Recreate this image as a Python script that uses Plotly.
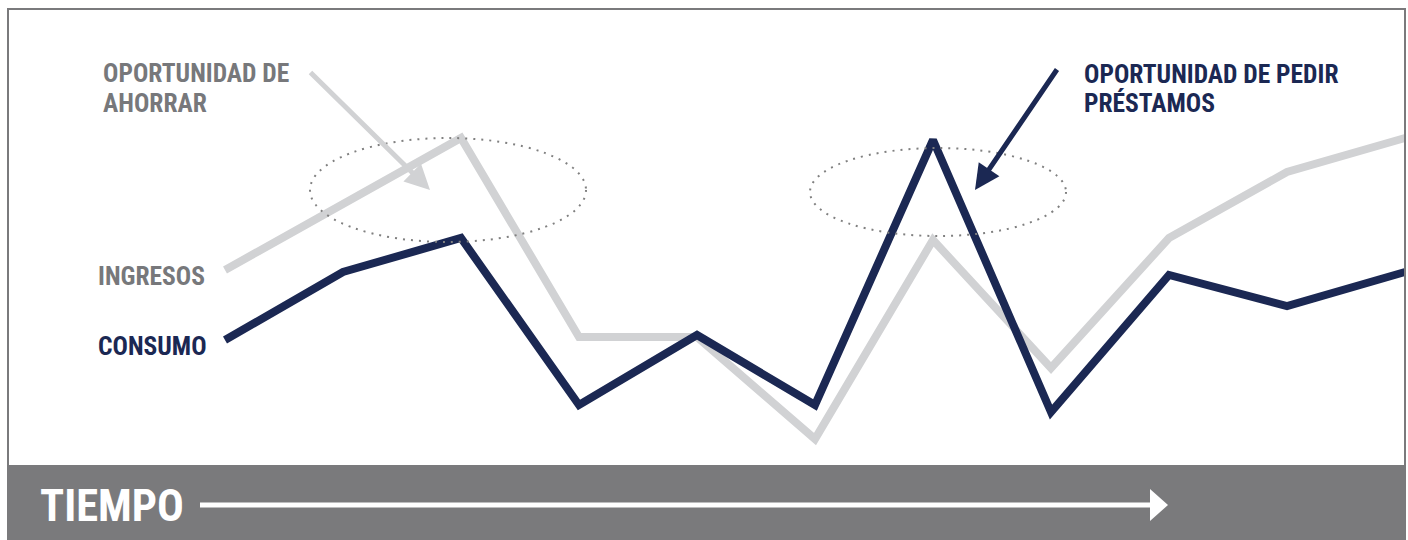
import plotly.graph_objects as go

# ---- data ----
periods = list(range(11))
ingresos = [270, 336, 402, 203, 203, 101, 300, 172, 302, 368, 402]
consumo = [200, 268, 302, 135, 205, 135, 400, 128, 265, 234, 268]

save_label = ["OPORTUNIDAD DE", "AHORRAR"]
borrow_label = ["OPORTUNIDAD DE PEDIR", "PRÉSTAMOS"]

W, H = 1408, 540
X0, DX = 225, 118  # pixel of first period, pixel spacing

GRAY_TXT = "#77787b"
LIGHT = "#d1d2d4"
NAVY = "#1b2853"
BAR = "#7a7a7c"
FONT = "Roboto Condensed, Liberation Sans Narrow, Arial Narrow, sans-serif"


def px(v):
    return v / W


def py(v):
    return 1 - v / H


def dx(p):
    return (p - X0) / DX


def dy(p):
    return H - p


fig = go.Figure()
fig.add_trace(go.Scatter(x=periods, y=ingresos, mode="lines",
                         line=dict(color=LIGHT, width=8), hoverinfo="skip"))
fig.add_trace(go.Scatter(x=periods, y=consumo, mode="lines",
                         line=dict(color=NAVY, width=8), hoverinfo="skip"))

shapes = [
    # bottom bar
    dict(type="rect", xref="paper", yref="paper", x0=px(7), x1=px(1406), y0=py(540), y1=py(466),
         fillcolor=BAR, line=dict(width=0), layer="above"),
    # frame
    dict(type="rect", xref="paper", yref="paper", x0=px(8), x1=px(1405), y0=py(466), y1=py(9),
         line=dict(color=BAR, width=2), layer="above"),
    # ellipses
    dict(type="circle", xref="x", yref="y", x0=dx(310), x1=dx(586), y0=dy(242), y1=dy(138),
         line=dict(color="#808080", width=2, dash="2px,6px"), layer="above"),
    dict(type="circle", xref="x", yref="y", x0=dx(810), x1=dx(1066), y0=dy(236), y1=dy(148),
         line=dict(color="#808080", width=2, dash="2px,6px"), layer="above"),
    # time arrow
    dict(type="line", xref="paper", yref="paper", x0=px(200), x1=px(1152), y0=py(505), y1=py(505),
         line=dict(color="white", width=5), layer="above"),
    dict(type="path", xref="paper", yref="paper",
         path=f"M {px(1150)} {py(489)} L {px(1168)} {py(505)} L {px(1150)} {py(521)} Z",
         fillcolor="white", line=dict(width=0), layer="above"),
]


def label(x, y, text, color, size=25.5):
    return dict(xref="paper", yref="paper", x=px(x), y=py(y), xanchor="left", yanchor="middle",
                text=f"<b>{text}</b>", showarrow=False,
                font=dict(family=FONT, size=size, color=color))


annotations = [
    label(101, 73, save_label[0], GRAY_TXT),
    label(101, 103, save_label[1], GRAY_TXT),
    label(1082, 74, borrow_label[0], NAVY),
    label(1082, 103, borrow_label[1], NAVY),
    label(96, 276, "INGRESOS", GRAY_TXT),
    label(96, 346, "CONSUMO", NAVY),
    label(38, 506, "TIEMPO", "white", size=44.5),
    # pointer arrows
    dict(xref="x", yref="y", x=dx(430), y=dy(190), ax=309 - 430, ay=71 - 190,
         showarrow=True, arrowhead=2, arrowsize=1, arrowwidth=5, arrowcolor=LIGHT, text=""),
    dict(xref="x", yref="y", x=dx(975), y=dy(190), ax=1058 - 975, ay=68 - 190,
         showarrow=True, arrowhead=2, arrowsize=1, arrowwidth=5, arrowcolor=NAVY, text=""),
]

fig.update_layout(
    width=W, height=H,
    margin=dict(l=0, r=0, t=0, b=0),
    paper_bgcolor="white", plot_bgcolor="white",
    showlegend=False,
    xaxis=dict(range=[-X0 / DX, (W - X0) / DX], visible=False, fixedrange=True),
    yaxis=dict(range=[0, H], visible=False, fixedrange=True),
    shapes=shapes, annotations=annotations,
)

fig.write_html("out.html", config={"displayModeBar": False})
